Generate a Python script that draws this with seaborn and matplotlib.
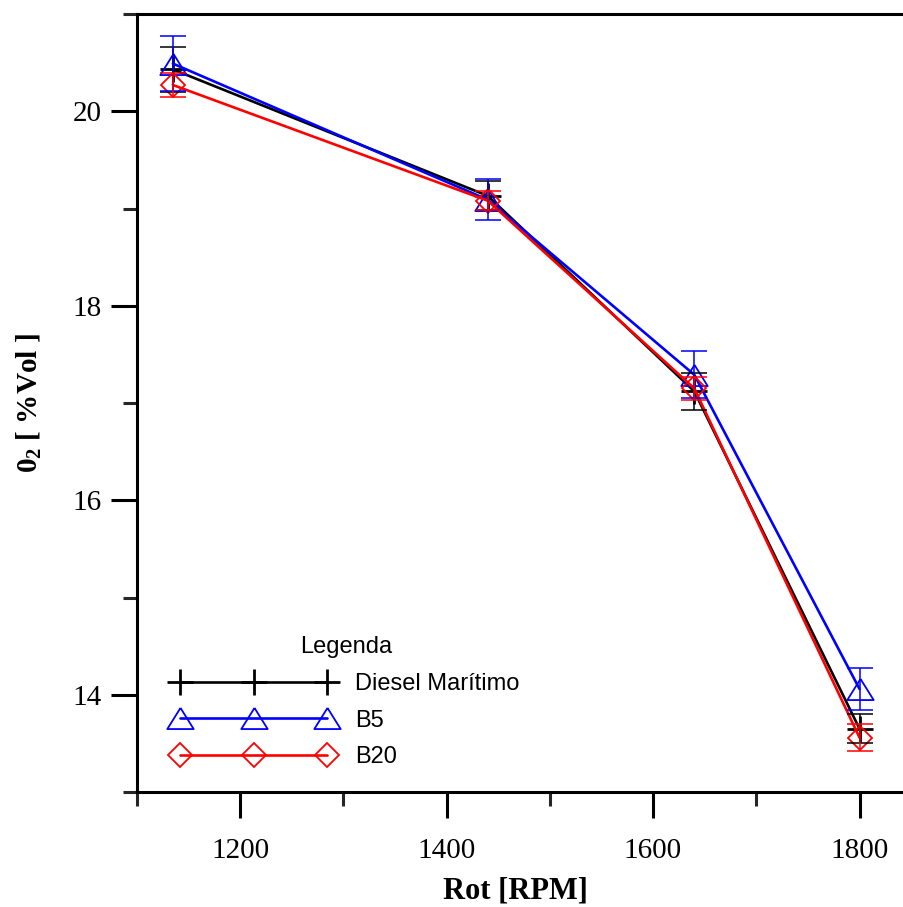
import numpy as np
import pandas as pd
import matplotlib
matplotlib.use("Agg")
import matplotlib.pyplot as plt
from matplotlib.ticker import MultipleLocator
import seaborn as sns

# ---- data ----
rpm = [1135, 1440, 1640, 1800]
diesel = [20.43, 19.13, 17.12, 13.65]
diesel_err = [0.23, 0.15, 0.19, 0.15]
b5 = [20.49, 19.09, 17.29, 14.06]
b5_err = [0.28, 0.21, 0.24, 0.22]
b20 = [20.27, 19.08, 17.15, 13.56]
b20_err = [0.12, 0.10, 0.12, 0.14]
series_names = ["Diesel Marítimo", "B5", "B20"]

sns.set_style("ticks")
plt.rcParams["font.family"] = ["Liberation Serif", "DejaVu Serif"]
plt.rcParams["mathtext.fontset"] = "custom"
plt.rcParams["mathtext.bf"] = "Liberation Serif:bold"
plt.rcParams["mathtext.rm"] = "Liberation Serif"
plt.rcParams["text.color"] = "black"
plt.rcParams["axes.labelcolor"] = "black"

W, H = 904, 907
fig = plt.figure(figsize=(W / 100, H / 100), dpi=100)
left_px, right_px = 136.75, 136.75 + 800 * 1.0325
top_px, bot_px = 14, 792
ax = fig.add_axes([left_px / W, 1 - bot_px / H, (right_px - left_px) / W, (bot_px - top_px) / H])

specs = [
    (diesel, diesel_err, "black", "+", 19, 2.0),
    (b5, b5_err, "#0000ff", [(0, 0.8), (-1, -0.8), (1, -0.8), (0, 0.8)], 19, 1.3),
    (b20, b20_err, "#ff0000", "D", 12.5, 1.3),
]

for (vals, errs, col, mk, ms, mew), name in zip(specs, series_names):
    df = pd.DataFrame({"rpm": rpm, "o2": vals})
    sns.lineplot(data=df, x="rpm", y="o2", ax=ax, color=col, linewidth=1.9,
                 marker=mk, markersize=ms, markerfacecolor="none",
                 markeredgecolor=col, markeredgewidth=mew,
                 estimator=None, sort=False, label=name)
    ax.errorbar(rpm, vals, yerr=errs, fmt="none", ecolor=col,
                elinewidth=1.1, capsize=9.7, capthick=1.1, zorder=3)

ax.set_xlim(1100, 1900)
ax.set_ylim(13, 21)
ax.xaxis.set_major_locator(MultipleLocator(200))
ax.xaxis.set_minor_locator(MultipleLocator(100))
ax.yaxis.set_major_locator(MultipleLocator(2))
ax.yaxis.set_minor_locator(MultipleLocator(1))

for s in ax.spines.values():
    s.set_linewidth(2.2)
    s.set_color("black")

ax.tick_params(axis="both", which="major", direction="out", length=19, width=2.2,
               labelsize=21, colors="black")
ax.tick_params(axis="both", which="minor", direction="out", length=10, width=2.2)
ax.tick_params(axis="x", which="major", pad=14)
ax.tick_params(axis="y", which="major", pad=6)
ax.tick_params(top=False, right=False, which="both")

ax.set_xlabel("Rot [RPM]", fontsize=22, fontweight="bold")
ax.xaxis.set_label_coords((515 - left_px) / (right_px - left_px), -0.108)
ax.set_ylabel(r"$\mathbf{0_2}$ [ %Vol ]", fontsize=21, fontweight="bold")
ax.yaxis.set_label_coords(-(left_px - 44) / (right_px - left_px), 0.5)

handles, labels = ax.get_legend_handles_labels()
leg = ax.legend(handles, labels, title="Legenda", numpoints=3, frameon=False,
                loc="upper left", bbox_to_anchor=(152 / W, 1 - 615 / H),
                bbox_transform=fig.transFigure,
                prop={"family": "Liberation Sans", "size": 17},
                title_fontproperties={"family": "Liberation Sans", "size": 17},
                handlelength=6.8, handletextpad=0.9, labelspacing=0.62,
                borderpad=0.4)
for t in leg.get_texts():
    t.set_color("black")
leg.get_title().set_color("black")

fig.savefig("out.png", dpi=100)
